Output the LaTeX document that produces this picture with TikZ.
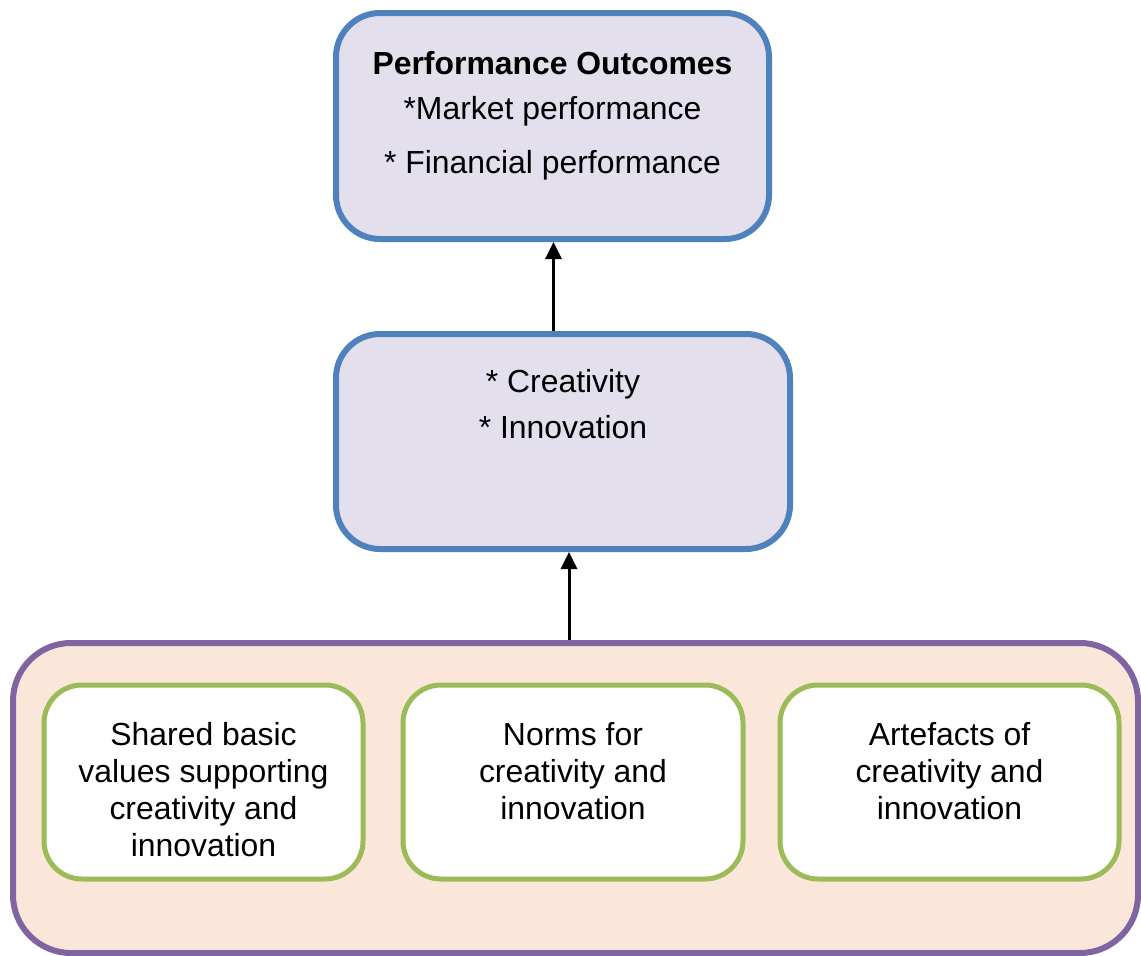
\documentclass[tikz,border=0pt]{standalone}
\usepackage{fontspec}
\setmainfont{Liberation Sans}
\usetikzlibrary{arrows.meta}
\definecolor{boxblue}{HTML}{4F81BD}
\definecolor{lav}{HTML}{E4DFEC}
\definecolor{purp}{HTML}{8064A2}
\definecolor{peach}{HTML}{FBE7D9}
\definecolor{grn}{HTML}{9BBB59}
\tikzset{
  bluebox/.style={draw=boxblue, fill=lav, line width=6pt, rounded corners=44pt, inner sep=0pt},
  outerbox/.style={draw=purp, fill=peach, line width=6pt, rounded corners=58pt, inner sep=0pt},
  greenbox/.style={draw=grn, fill=white, line width=5pt, rounded corners=38pt, inner sep=0pt},
  txt/.style={anchor=base, inner sep=0pt, font=\fontsize{31.9}{36.8}\selectfont},
  gtxt/.style={anchor=north, inner sep=0pt, align=center, font=\fontsize{31.9}{37}\selectfont},
  arr/.style={line width=3pt, -{Triangle[width=16pt,length=17pt]}}
}
\begin{document}
\begin{tikzpicture}[x=1pt,y=-1pt]
\useasboundingbox (0,0) rectangle (1141,956);
% top box
\node[bluebox, minimum width=433pt, minimum height=226pt] (top) at (552.5,126) {};
\node[txt, font=\fontsize{31.9}{36.8}\selectfont\bfseries] (t1) at (552.5,74) {Performance Outcomes};
\node[txt] (t2) at (552.5,119) {*Market performance};
\node[txt] (t3) at (552.5,173) {* Financial performance};
% middle box
\node[bluebox, minimum width=454pt, minimum height=215pt] (mid) at (563,441.5) {};
\node[txt] (m1) at (563,392.5) {* Creativity};
\node[txt] (m2) at (563,438.5) {* Innovation};
% bottom container
\node[outerbox, minimum width=1125pt, minimum height=310pt] (base) at (575.5,798) {};
\node[greenbox, minimum width=319pt, minimum height=194pt] (g1) at (203.5,782) {};
\node[greenbox, minimum width=340pt, minimum height=194pt] (g2) at (573,782) {};
\node[greenbox, minimum width=339pt, minimum height=194pt] (g3) at (949.5,782) {};
\node[gtxt] (g1t) at (203.5,722.5) {Shared basic\\values supporting\\creativity and\\innovation};
\node[gtxt] (g2t) at (573,722.5) {Norms for\\creativity and\\innovation};
\node[gtxt] (g3t) at (949.5,722.5) {Artefacts of\\creativity and\\innovation};
% arrows
\coordinate (a1) at (553.5,0);
\coordinate (a2) at (569,0);
\draw[arr] (mid.north -| a1) -- (top.south -| a1);
\draw[arr] (base.north -| a2) -- (mid.south -| a2);
\end{tikzpicture}
\end{document}
